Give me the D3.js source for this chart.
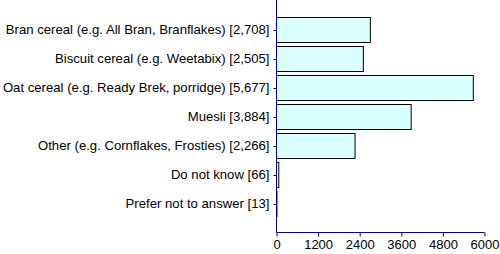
<!DOCTYPE html>
<html><head><meta charset="utf-8">
<script src="https://cdn.jsdelivr.net/npm/d3@7"></script>
<style>body{margin:0;background:#fff}svg{display:block}text{font-family:"Liberation Sans",Arial,sans-serif;font-size:13px;fill:#000}</style>
</head><body><svg id="c" width="500" height="254"></svg>
<script>
const categories = ["Bran cereal (e.g. All Bran, Branflakes) [2,708]","Biscuit cereal (e.g. Weetabix) [2,505]","Oat cereal (e.g. Ready Brek, porridge) [5,677]","Muesli [3,884]","Other (e.g. Cornflakes, Frosties) [2,266]","Do not know [66]","Prefer not to answer [13]"];
const values = [2708,2505,5677,3884,2266,66,13];
const xTicks = [0,1200,2400,3600,4800,6000];

const svg = d3.select("#c");
const x = d3.scaleLinear().domain([0,6000]).range([276.5,484.5]);
const y = d3.scaleLinear().domain([0,8]).range([0.5,232.5]);
const navy = "#000080";
const bh = 25;

svg.selectAll("rect.bar").data(values).join("rect").attr("class","bar")
  .attr("x", x(0)).attr("y",(d,i)=>Math.round(y(i+1)-bh/2)+0.5)
  .attr("width", d=>Math.max(0,x(d)-x(0))).attr("height", bh)
  .attr("fill","#d9ffff").attr("stroke","#000").attr("stroke-width",1);

// y axis
const ya = svg.append("g").attr("transform",`translate(${x(0)},0)`);
ya.append("line").attr("x1",0).attr("x2",0).attr("y1",0).attr("y2",y(8)).attr("stroke",navy);
ya.selectAll("line.t").data(categories).join("line").attr("class","t")
  .attr("x1",-3).attr("x2",0).attr("y1",(d,i)=>Math.round(y(i+1))+0.5).attr("y2",(d,i)=>Math.round(y(i+1))+0.5).attr("stroke",navy);
ya.selectAll("text").data(categories).join("text")
  .attr("x",-7).attr("y",(d,i)=>y(i+1)).attr("dy","0.35em").attr("text-anchor","end")
  .style("font-size","13.15px").text(d=>d);

// x axis
const xa = svg.append("g").attr("transform",`translate(0,${y(8)})`)
  .call(d3.axisBottom(x).tickValues(xTicks).tickSize(4).tickPadding(3).tickFormat(d3.format("d")));
xa.select(".domain").attr("stroke",navy).attr("d",`M${x(0)},0H${x(6000)}`);
xa.selectAll(".tick line").attr("stroke",navy);
xa.selectAll(".tick text").style("font-family",'"Liberation Sans",Arial,sans-serif').style("font-size","13px").attr("fill","#000");
</script></body></html>
